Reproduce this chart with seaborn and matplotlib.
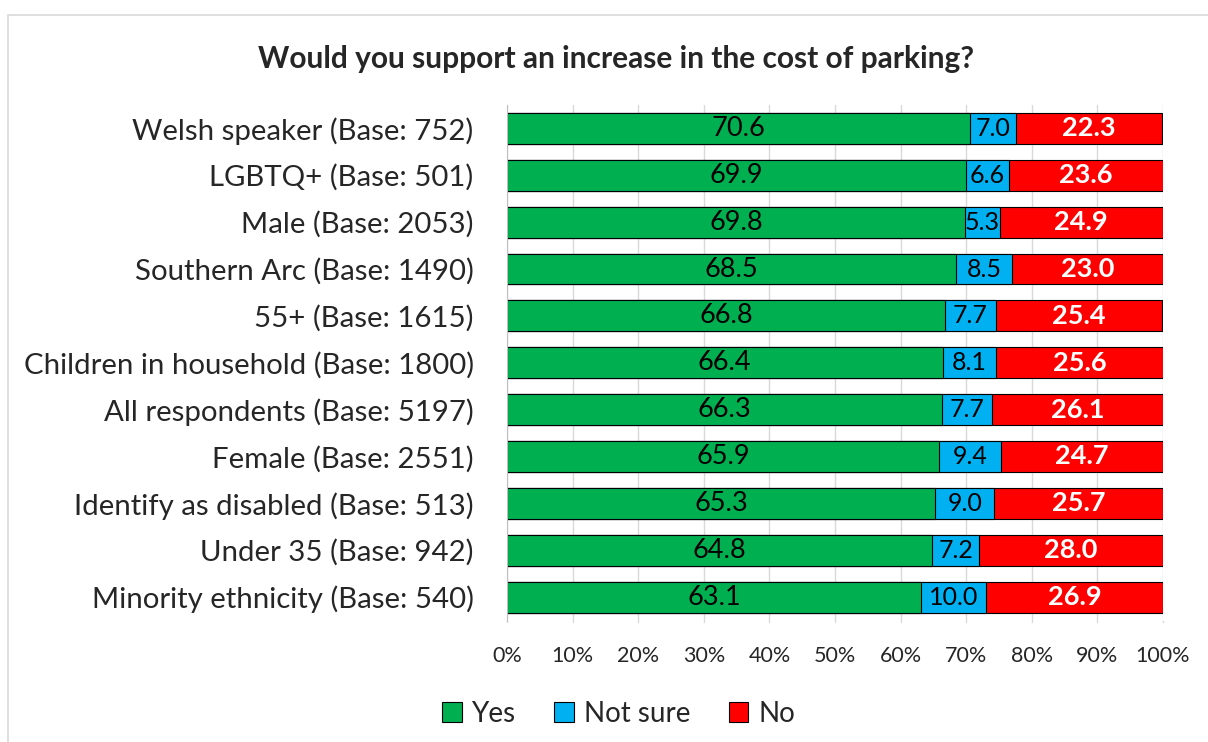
import matplotlib.pyplot as plt
import pandas as pd
import seaborn as sns
from matplotlib.patches import Rectangle

# Data (top to bottom as in the chart)
groups = ['Welsh speaker (Base: 752)', 'LGBTQ+ (Base: 501)', 'Male (Base: 2053)',
          'Southern Arc (Base: 1490)', '55+ (Base: 1615)',
          'Children in household (Base: 1800)', 'All respondents (Base: 5197)',
          'Female (Base: 2551)', 'Identify as disabled (Base: 513)',
          'Under 35 (Base: 942)', 'Minority ethnicity (Base: 540)']
yes = [70.6, 69.9, 69.8, 68.5, 66.8, 66.4, 66.3, 65.9, 65.3, 64.8, 63.1]
not_sure = [7.0, 6.6, 5.3, 8.5, 7.7, 8.1, 7.7, 9.4, 9.0, 7.2, 10.0]
no = [22.3, 23.6, 24.9, 23.0, 25.4, 25.6, 26.1, 24.7, 25.7, 28.0, 26.9]

colors = {'Yes': '#00B050', 'Not sure': '#00B0F0', 'No': '#FF0000'}

df = pd.DataFrame({'group': groups, 'Yes': yes, 'Not sure': not_sure, 'No': no})
df['cum_ns'] = df['Yes'] + df['Not sure']
df['cum_no'] = df['cum_ns'] + df['No']

sns.set_style('white')
plt.rcParams['font.family'] = ['Lato', 'DejaVu Sans']

fig = plt.figure(figsize=(12.08, 7.42), dpi=100)
ax = fig.add_axes([0.4197, 0.1637, 0.543, 0.6948])

# stacked bars drawn back to front as cumulative totals
for col, key in [('cum_no', 'No'), ('cum_ns', 'Not sure'), ('Yes', 'Yes')]:
    sns.barplot(data=df, x=col, y='group', color=colors[key], width=0.66,
                edgecolor='black', linewidth=0.8, saturation=1, ax=ax)

for i, row in df.iterrows():
    ax.text(row['Yes'] / 2, i, f"{row['Yes']:.1f}", ha='center', va='center',
            fontsize=19.5, color='black')
    ax.text(row['Yes'] + row['Not sure'] / 2, i, f"{row['Not sure']:.1f}",
            ha='center', va='center', fontsize=18, color='black')
    ax.text(row['cum_ns'] + row['No'] / 2, i, f"{row['No']:.1f}", ha='center',
            va='center', fontsize=19.5, color='white', fontweight='bold')

ax.set_xlim(0, 100)
ax.set_ylim(10.5, -0.5)
ax.set_xticks(range(0, 101, 10))
ax.set_xticklabels([f'{v}%' for v in range(0, 101, 10)], fontsize=15.5)
ax.tick_params(axis='y', labelsize=21.2, length=0, pad=24)
ax.tick_params(axis='x', length=0, pad=18)
ax.set_xlabel('')
ax.set_ylabel('')
ax.grid(axis='x', color='#D9D9D9', linewidth=1)
ax.set_axisbelow(True)
for s in ['top', 'right', 'bottom']:
    ax.spines[s].set_visible(False)
ax.spines['left'].set_color('#BFBFBF')
for v in range(0, 101, 10):
    ax.plot([v, v], [10.5, 10.5 + 0.04], color='#D9D9D9', lw=1, clip_on=False)

fig.suptitle('Would you support an increase in the cost of parking?', x=0.51, y=0.94,
             fontsize=21.5, fontweight='bold')

handles = [Rectangle((0, 0), 1, 1, facecolor=colors[k], edgecolor='black', linewidth=0.8)
           for k in ['Yes', 'Not sure', 'No']]
fig.legend(handles, ['Yes', 'Not sure', 'No'], loc='center', bbox_to_anchor=(0.512, 0.038),
           ncol=3, frameon=False, fontsize=20, handlelength=0.7, handleheight=0.7,
           handletextpad=0.35, columnspacing=1.4)

fig.patches.append(Rectangle((0.007, -0.02), 1.1, 1.0, transform=fig.transFigure,
                             fill=False, edgecolor='#D9D9D9', linewidth=1.2))

fig.savefig('out.png', dpi=100)
